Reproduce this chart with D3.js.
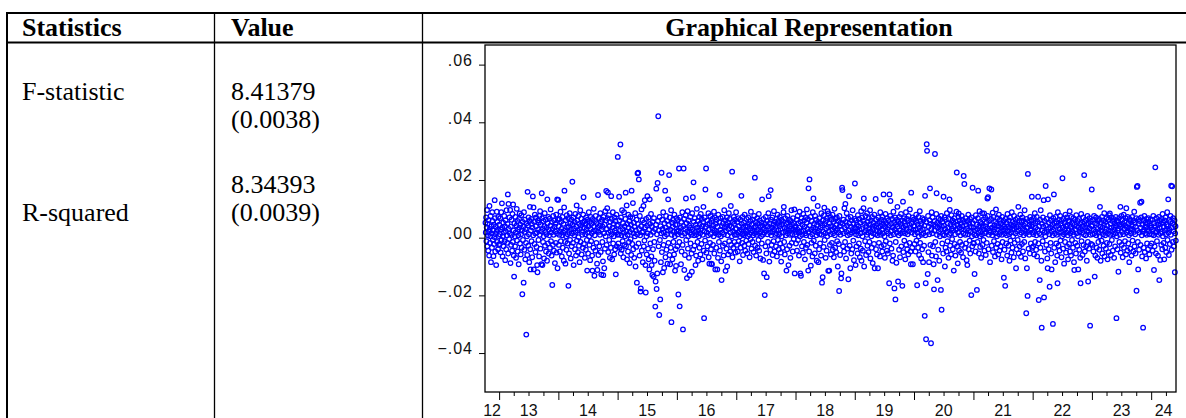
<!DOCTYPE html>
<html>
<head>
<meta charset="utf-8">
<script src="https://cdn.jsdelivr.net/npm/d3@7"></script>
<style>
  html, body { margin: 0; padding: 0; background: #fff; }
  svg { display: block; }
</style>
</head>
<body>
<svg id="chart" width="1186" height="418"></svg>
<script>
// --- table text
var headers = ["Statistics", "Value", "Graphical Representation"];
var statNames = ["F-statistic", "R-squared"];
var statValues = ["8.41379", "8.34393"];
var statPvalues = ["(0.0038)", "(0.0039)"];

// --- residual series, in basis points (1 = 0.0001), one array per year
var r2012 = [52, 18, 70, -12, 35, 96, -30, 48, 8, -45, 61, 22, -62, 110, 30, -18, 5, 75, -85, 40, 15, -35, 88, 58, -8,
  25, -64, 45, -22, 2, 130, 68, -48, 12, 38, -95, 20, 90, -15, 55, 28, -40, 72, 6, -25];
var r2013 = [45, -22, 12, 68, -51, 28, 88, -8, 119, 35, -65, 5, 52, -30, 18, 75, -12, 40, -78, 60,
  22, -40, 95, 8, -18, 48, 150, -55, 117, 30, -5, 70, 15, 96, -88, 38, -25, 62, 10, -45,
  82, -15, 115, 25, -62, -135, 50, 5, -30, 72, 18, -70, 42, 100, -10, 58, -48, 28, 8, -92,
  65, 35, 84, -20, 45, -58, 12, 78, -35, 25, -196, 55, -8, 38, -156, 88, -42, 20, 62, -75,
  30, -18, -336, 50, 5, -60, 159, 42, -28, 70, 12, -85, 58, 107, -40, -110, 25, 65, -12, 48,
  -68, 35, 143, 8, 105, -110, 55, -22, 80, 15, -50, 40, 70, -32, 18, -95, -120, 60, 28, -8,
  52, -65, 75, 10, 92, -38, 45, 22, -92, 154, 68, -95, 30, -15, 58, 5, -72, 40, 85, -28,
  20, 62, -48, 12, 35, -80, 133, 50, -20, 72, -55, 28, 8, 66, -35, 42, 98, -12, 18, -62,
  55, -164, 30, -25, 75, 10, -45, 60, 38, -88, 22, 48, -18, 80, -52, 15, 133, -106, 62, 131];
var r2014 = [40, -25, 10, 65, -48, 22, 90, -12, 55, 30, -65, 8, 72, -35, 18, 48, -80, 105, 163, 25,
  -15, -90, 60, 5, -42, 78, 35, -20, 12, 68, -167, 40, -55, 20, 85, -8, 50, -72, 28, 62,
  -30, 15, 194, 45, -18, 70, -95, 32, 8, 55, -40, 82, 18, -62, 38, 112, -10, 60, 25, -50,
  75, 2, -28, 48, -85, 30, 95, -15, 42, 66, -58, 20, 10, 52, -35, 80, 140, -22, 35, 58,
  -70, 12, 45, -42, 70, 28, -8, -114, 62, 18, -55, 40, 88, 5, -25, 55, -78, 30, 72, -12,
  48, 15, -62, -114, 65, 22, -35, 100, 40, -132, 8, 58, -45, 75, 25, -18, 50, -90, -112, 35,
  148, -60, 20, 68, -30, 42, 10, 85, -50, 55, -128, 28, 62, -15, 38, -82, -130, 72, 15, -106,
  45, -38, 92, 5, 60, 162, -25, 30, 102, 68, 157, -50, 18, 78, -8, 40, -70, 55, 22, -35,
  144, 12, 65, -75, 35, 88, -20, 48, 5, -58, 70, 25, -40, 58, -127, 18, 80, -30, 42, 10];
var r2015 = [280, 45, -20, 12, 142, 60, -35, 25, 323, -55, 70, 8, -42, 95, 30, -12, 50, -68, 18, 88,
  -25, 40, 5, 65, 156, -30, 22, 112, -75, 48, 10, -48, 80, 35, -15, 58, -88, 20, 72, -5,
  45, -60, 163, 28, -22, 68, 120, -40, 15, 52, -70, 38, 5, 85, -100, 25, -32, 62, -156, 12,
  223, 48, 225, -20, 202, 30, -62, 75, 8, -187, -176, 40, 98, -45, 18, 60, -85, 22, 110, -30,
  52, -10, 130, 35, -95, -190, 65, 5, -58, 42, 144, 15, -38, 70, -75, 28, -110, 133, 48, -20,
  10, 82, -65, -95, 38, -129, 55, -40, 20, -135, 68, -15, -80, 30, -239, -152, 45, 170, -178, 12,
  -124, 190, 58, 421, -30, 25, -268, 72, -8, -214, 40, -85, 15, 225, -50, 62, 30, -120, 88, -25,
  18, -105, 50, 5, 163, -68, 35, 75, -42, 12, 58, -90, 25, 133, -18, 45, 217, -60, 70, -92,
  28, -35, 95, -293, 10, 52, -75, 38, 62, -15, 20, -58, 80, 5, -114, 45, -40, -98, 68, 22];
var r2016 = [45, -30, 12, 62, -197, 25, 240, -15, -238, 70, 18, 35, -92, 55, -48, 8, 88, -25, -318, 40,
  240, 65, -112, 15, -60, 30, 78, 136, -8, 50, -140, 22, 92, -38, 5, 60, -70, 42, -130, 18,
  72, -20, 35, 10, -55, -118, 85, 28, 140, -42, 192, 55, 8, -28, 68, 20, -95, 45, -62, 12,
  100, 35, -15, 58, -80, 25, 5, 72, -35, 48, 15, -58, 82, 30, -22, 65, 40, -75, 10, 55,
  107, -45, -279, 22, 70, -10, 167, 38, 240, -52, 18, 60, -30, 45, 8, 85, -68, 28, -90, 50,
  -18, 75, 12, -40, -90, 58, -92, 32, 66, -25, 42, 5, 90, -55, 25, 70, -110, 15, 48, -35,
  62, 20, -110, 38, -70, 80, 10, -15, 55, 148, -45, 28, 68, 5, -82, -147, 40, 18, 72, -28,
  50, -62, 12, 95, 35, -20, 60, -115, 25, 45, -38, 70, -100, 8, 52, -58, 30, 85, -12, 42,
  65, -48, 18, 110, -25, 38, 5, 229, -68, 55, 22, -35, 72, 48, -15, 10, 62, -52, 30, 88];
var r2017 = [30, -25, 10, 55, -48, 18, 68, -12, 40, 22, -82, 5, 62, -35, 28, 145, 48, -18, 12, 72,
  -60, 35, 8, 52, -28, 80, 15, -45, 42, 25, -10, 65, 20, -55, 38, 5, 70, -22, 48, 12,
  -68, 30, 58, -5, 90, 18, -38, 45, 25, -15, 62, 8, -50, 35, 75, 15, 208, -28, 40, 55,
  -62, 20, 10, 68, -35, 48, 28, -8, 82, -45, 15, 60, 38, -72, 22, 5, 52, -20, 133, 42,
  10, -77, 65, 30, -124, 18, -199, 48, -30, 72, 25, -55, -137, 58, 12, 40, -15, 85, 144, 30,
  -83, 50, 18, -42, 165, 62, 8, -25, 35, 70, -60, 20, 45, -12, 92, 28, -48, 55, 10, 38,
  -30, 65, 15, -65, 48, 80, -8, 25, 58, -40, 12, 40, 72, -20, 30, -52, -83, 62, 5, 45,
  -35, 18, 55, 88, 107, -15, 35, -58, 68, 22, 8, 48, -114, 30, -40, 75, 15, 52, -95, 25,
  62, -28, 40, 10, -70, 58, 32, 95, -18, 45, 12, -48, 68, 28, -5, 50, 98, -124, 35, 20];
var r2018 = [40, -20, 12, 62, -45, 28, 75, -8, 50, 18, -62, 35, 90, 5, -124, 55, -132, 22, 68, -30,
  10, 45, -52, 82, 25, -15, 60, 38, -75, 15, 70, -35, 8, 52, 98, -25, 30, 65, -114, 171,
  20, -48, 202, 42, 5, 72, -97, 28, -18, 58, 12, -65, 88, 35, 136, -10, 48, 22, -55, 75,
  30, -28, 62, 8, -80, 45, 18, 110, 55, -85, 25, -40, 68, 12, -20, 50, 35, -62, 85, 10,
  -156, 42, -137, 60, 20, -32, 78, 104, -8, 48, 15, -70, 58, 32, -45, 68, 5, 92, 38, -115,
  84, 22, -114, 50, -25, 72, 12, -58, 40, 62, -18, 28, 80, -42, 15, 55, -68, 35, 100, 8,
  -35, 65, 25, -50, 45, 70, -12, 30, -100, 58, 18, -22, -185, 75, 40, -60, 10, 52, -141, -124,
  28, 173, 165, 48, -30, 62, 15, -48, 102, 35, -15, 117, 55, -72, 20, 85, 42, -38, 8, 68,
  -144, 25, 144, 50, -28, 12, -106, 72, 38, -55, 60, 18, -40, 95, 30, -10, 48, -78, 22, 65];
var r2019 = [188, 35, -95, 12, 60, -30, 45, 22, -55, 78, 8, 40, -20, 65, 28, -68, 52, 15, -38, 92,
  -80, 30, 70, 5, -45, 58, 102, 136, -100, 20, 48, -12, 75, 25, -60, 40, 10, 85, -28, 55,
  18, -50, 68, 32, -15, 45, 95, -72, 22, 60, 5, -35, 72, 38, -88, 15, 52, 30, -22, 80,
  -106, 42, 12, 134, -40, 62, 25, -58, 48, 8, -106, 70, 35, -18, 55, 20, -65, 88, 40, 10,
  -30, 62, 28, -48, 72, 15, 45, 150, -25, 58, 5, -70, 38, 82, -12, 50, 22, -45, 68, 30,
  -55, 15, 60, 42, -158, 150, -20, 75, 127, 8, 48, -38, 25, 65, -80, 35, -62, 90, 12, 52,
  -176, 28, 70, -214, -15, 45, -87, 18, 62, 107, 38, -152, 55, 8, -42, 72, 25, -68, 48, 15,
  82, -30, 40, 60, -167, 20, 125, -50, 35, 68, -10, 55, 15, -75, 42, 88, -25, 30, 65, -40,
  12, 58, -58, 75, 22, 45, -18, 98, 35, -48, -92, 156, 50, 18, -35, 70, -92, 28, 62, 40];
var r2020 = [40, -22, 12, 65, -48, 28, 80, -10, 55, -165, 18, 45, -35, 72, 5, -60, 35, 92, -18, 58,
  25, -72, 48, 10, -40, 68, 30, -85, 15, 62, -28, 42, -271, 145, 8, -158, -352, 55, 324, 301,
  20, -126, 75, -50, 38, -85, 12, 60, 171, -25, 48, -366, 30, 88, -62, 15, 70, -30, 45, -92,
  -179, 25, 58, 290, -15, 40, -65, 82, 154, 10, 52, -147, 35, -42, 68, 20, -80, 45, 5, 62,
  28, -181, 75, -250, 38, -20, 55, 12, -55, 142, 42, 8, 70, -100, 30, -35, 62, 18, -48, 85,
  22, -12, 50, 35, -70, 65, 10, 133, 96, -28, 45, 15, -58, 78, 32, -5, 60, -40, 25, 52,
  -114, 38, 68, -22, 12, -62, 55, 28, 90, 226, -30, 45, -89, 18, 72, 84, -45, 35, 60, -15,
  8, 50, -52, 30, 75, -25, 40, 62, -68, 15, 214, 28, 186, 55, -35, 10, 68, -20, 45, -78,
  32, -95, 58, 12, 80, -40, 25, 48, -10, 65, -55, 20, 38, -199, 70, 5, -30, 173, 50, -18];
var r2021 = [35, -20, 12, -126, 60, 25, -48, 78, 8, 45, -181, 30, -15, 68, 163, 18, -55, 40, 92, 5,
  -32, 55, 22, -70, 48, 12, 85, -25, 38, 62, -8, 28, 84, -45, 15, 70, 40, -60, 20, 52,
  -18, 32, 136, 75, 140, -40, 10, 58, 171, 25, -85, 45, 18, 65, 167, -28, 35, 8, 87, -50,
  22, 72, -12, 42, 30, -65, 55, 15, 98, -35, 48, 5, 68, -22, 28, -58, 40, 80, 12, -45,
  62, 20, -30, 50, 35, -75, 10, 72, -15, 45, 25, 58, -139, 38, -42, 15, -167, 65, 30, -20,
  52, 8, -62, 82, 22, 40, -28, 60, 12, -80, 35, 70, -10, 45, 18, -52, 88, 28, -35, 55,
  5, 42, -68, 75, 30, -18, 50, 15, 62, -106, 38, -40, 22, 68, -8, 45, 107, -55, 25, 58,
  -30, 12, 80, 40, -66, 18, 55, -22, 70, 32, -48, 60, 8, 42, -15, 95, 25, -72, 50, 15,
  -262, 65, -106, 35, -202, 221, 20, -38, 58, 10, 45, -55, 72, 28, -20, 40, 62, 142, -35, 18];
var r2022 = [45, -30, 12, 68, -58, 22, 85, -15, 50, 35, -42, 8, 72, -65, 28, 55, 142, -20, -216, 40,
  15, -147, 62, -35, 95, 10, -80, -312, 48, 25, -12, 70, 38, 130, -207, 18, 58, -48, 5, 179,
  42, -25, 65, 20, -72, -106, 133, 30, -40, 52, 12, -170, 78, 35, -18, 60, -55, -110, 22, 45,
  8, -299, 68, 28, 150, -35, 50, 15, -85, 72, 38, -20, 55, 10, -62, -158, 88, 42, -28, 18,
  62, -45, 30, 75, -10, 48, 20, -68, 58, 5, 206, 35, -38, 65, 12, -90, 52, 28, -15, 80,
  40, -52, 18, 70, -30, 45, 8, -75, 60, 25, -22, 55, 92, -48, 15, 38, -62, 72, 30, -8,
  50, 20, -35, 68, 10, -85, -112, 45, 62, -18, 28, -55, 78, 15, 40, -28, 58, 5, -110, 35,
  65, -42, 22, 48, -70, -158, 30, 82, -12, 52, 18, -60, 40, 70, -25, 12, 217, 55, -48, 35,
  8, 62, -30, 45, -80, 25, 75, -15, -152, 50, 20, -38, 68, 32, -305, 10, 58, -22, 42, 167];
var r2023 = [40, -25, 12, 62, -48, 28, 75, 15, -135, 50, -62, 22, 70, 8, -35, 48, -70, 30, 58, -15,
  18, 65, -42, 5, 107, 38, -80, 52, 25, -10, 72, -55, 35, 12, 60, -28, 45, 85, -65, 20,
  8, 55, -38, 30, 68, -18, 42, -75, 15, 62, -50, 25, 78, -22, 84, 10, 48, -60, 35, 70,
  -8, 22, 58, -45, 12, 65, 38, -70, 28, 50, -30, 15, 72, 42, -279, 5, 60, -40, 25, 55,
  -118, 32, 68, -15, 45, 10, 107, -52, 38, 75, -25, 20, 62, -68, 48, 12, 80, -35, 30, 55,
  -12, 42, 68, -58, 102, 18, 35, -45, 72, 25, -20, 50, 8, -85, 65, 30, -38, 58, 15, 45,
  -62, 28, 72, -10, 40, -48, 60, 20, 90, -30, 52, 12, -55, 38, 68, -184, 176, 25, 179, -15,
  -110, 48, 65, -42, 18, 58, 121, -25, 35, 70, 125, 8, -65, 45, 22, -312, 60, -35, 28, 75,
  -50, 15, 52, 38, -72, 65, 10, -20, 48, 30, -40, 68, 22, 55, -58, 12, 42, -28, 62, 35];
var r2024 = [35, -20, 12, 62, -45, 28, 75, 8, -112, 50, -30, 40, 244, 18, -55, 68, 22, -12, 55, 30,
  -62, 45, 10, 72, -147, 35, 58, -77, 15, 48, -25, 65, 20, -40, 82, 5, 52, -18, 38, -75,
  60, 25, -35, 70, 12, -50, 45, 30, 88, -8, 40, 133, 18, -60, 62, 28, -22, 55, 75, 10,
  180, -42, 35, 178, 50, -15, 68, 22, -30, 45, 60, -120, 15, 40, -10];

// first and last day covered by each yearly array
var periods = [
  ["2012-10-08", "2012-12-31", r2012], ["2013-01-01", "2013-12-31", r2013],
  ["2014-01-01", "2014-12-31", r2014], ["2015-01-01", "2015-12-31", r2015],
  ["2016-01-01", "2016-12-31", r2016], ["2017-01-01", "2017-12-31", r2017],
  ["2018-01-01", "2018-12-31", r2018], ["2019-01-01", "2019-12-31", r2019],
  ["2020-01-01", "2020-12-31", r2020], ["2021-01-01", "2021-12-31", r2021],
  ["2022-01-01", "2022-12-31", r2022], ["2023-01-01", "2023-12-31", r2023],
  ["2024-01-01", "2024-06-01", r2024]
];

var yTicks = [-0.04, -0.02, 0, 0.02, 0.04, 0.06];
var yearLabels = ["12", "13", "14", "15", "16", "17", "18", "19", "20", "21", "22", "23", "24"];

var parse = d3.utcParse("%Y-%m-%d");
var DAY = 86400000;

// flatten into dated points
var points = [];
periods.forEach(function (p) {
  var t0 = parse(p[0]).getTime(), t1 = parse(p[1]).getTime() + DAY;
  var vals = p[2];
  vals.forEach(function (v, j) {
    points.push({ date: new Date(t0 + (j + 0.5) / vals.length * (t1 - t0)), value: v / 10000 });
  });
});

var svg = d3.select("#chart");
var serif = "'Liberation Serif', 'Times New Roman', serif";
var sans = "'Liberation Sans', Arial, sans-serif";

// --- table grid
var tableTop = 13, headBottom = 42.5;
var cols = [7, 214, 422];
svg.append("line").attr("x1", cols[0] - 1).attr("x2", 1186).attr("y1", tableTop).attr("y2", tableTop)
   .attr("stroke", "#000").attr("stroke-width", 2);
svg.append("line").attr("x1", cols[0] - 1).attr("x2", 1186).attr("y1", headBottom).attr("y2", headBottom)
   .attr("stroke", "#000").attr("stroke-width", 2);
svg.append("line").attr("x1", cols[0]).attr("x2", cols[0]).attr("y1", tableTop).attr("y2", 418)
   .attr("stroke", "#000").attr("stroke-width", 2);
[cols[1], cols[2]].forEach(function (x) {
  svg.append("line").attr("x1", x + 0.5).attr("x2", x + 0.5).attr("y1", tableTop).attr("y2", 418)
     .attr("stroke", "#000").attr("stroke-width", 1.3);
});

// headers
svg.append("text").attr("x", 22).attr("y", 36).text(headers[0]);
svg.append("text").attr("x", 231).attr("y", 36).text(headers[1]);
svg.append("text").attr("x", 809).attr("y", 36).attr("text-anchor", "middle").text(headers[2]);
svg.selectAll("text").attr("font-family", serif).attr("font-size", "26px").attr("font-weight", "bold");

// body
var body = svg.append("g").attr("font-family", serif).attr("font-size", "26px");
body.append("text").attr("x", 22).attr("y", 100).text(statNames[0]);
body.append("text").attr("x", 231).attr("y", 100).text(statValues[0]);
body.append("text").attr("x", 231).attr("y", 128).text(statPvalues[0]);
body.append("text").attr("x", 231).attr("y", 193).text(statValues[1]);
body.append("text").attr("x", 231).attr("y", 221).text(statPvalues[1]);
body.append("text").attr("x", 22).attr("y", 221).text(statNames[1]);

// --- scatter plot
var plot = { left: 485, right: 1176, top: 45, bottom: 392 };

var x = d3.scaleUtc()
  .domain([parse("2012-10-06"), parse("2024-06-02")])
  .range([plot.left, plot.right]);

var y = d3.scaleLinear()
  .domain([-0.0535, 0.0668])
  .range([plot.bottom, plot.top]);

var fmt = function (v) { return d3.format(".2f")(v).replace("0.", "."); };

var gy = svg.append("g")
  .attr("transform", "translate(" + plot.left + ",0)")
  .call(d3.axisLeft(y).tickValues(yTicks).tickSize(6).tickPadding(6).tickFormat(fmt));
gy.select(".domain").remove();
gy.selectAll("text").attr("font-family", sans).attr("font-size", "16px").attr("fill", "#111")
  .attr("dy", "0.05em").attr("letter-spacing", "1px");
gy.selectAll("line").attr("stroke", "#000");

var quarters = d3.utcMonth.every(3).range(x.domain()[0], x.domain()[1]);
var gx = svg.append("g")
  .attr("transform", "translate(0," + plot.bottom + ")")
  .call(d3.axisBottom(x).tickValues(quarters).tickSize(4).tickFormat(""));
gx.select(".domain").remove();
gx.selectAll("line").attr("stroke", "#000")
  .attr("y2", function (d) { return d.getUTCMonth() == 0 ? 8 : 4; });

// year labels centred in each visible year
var d0 = x.domain()[0], d1 = x.domain()[1];
svg.append("g").selectAll("text")
  .data(yearLabels)
  .enter()
  .append("text")
  .attr("x", function (d) {
    var yr = 2000 + (+d);
    var a = Math.max(Date.UTC(yr, 0, 1), d0.getTime());
    var b = Math.min(Date.UTC(yr + 1, 0, 1), d1.getTime());
    return x(new Date((a + b) / 2));
  })
  .attr("y", 416)
  .attr("text-anchor", "middle")
  .attr("font-family", sans)
  .attr("font-size", "16px")
  .attr("fill", "#111")
  .text(function (d) { return d; });

// points
svg.append("g").selectAll("circle")
  .data(points)
  .enter()
  .append("circle")
  .attr("cx", function (d) { return x(d.date); })
  .attr("cy", function (d) { return y(d.value); })
  .attr("r", 2.3)
  .attr("fill", "none")
  .attr("stroke", "#0000ff")
  .attr("stroke-width", 1.25);

// frame
svg.append("rect")
  .attr("x", plot.left).attr("y", plot.top)
  .attr("width", plot.right - plot.left).attr("height", plot.bottom - plot.top)
  .attr("fill", "none").attr("stroke", "#000").attr("stroke-width", 1.3);
</script>
</body>
</html>
